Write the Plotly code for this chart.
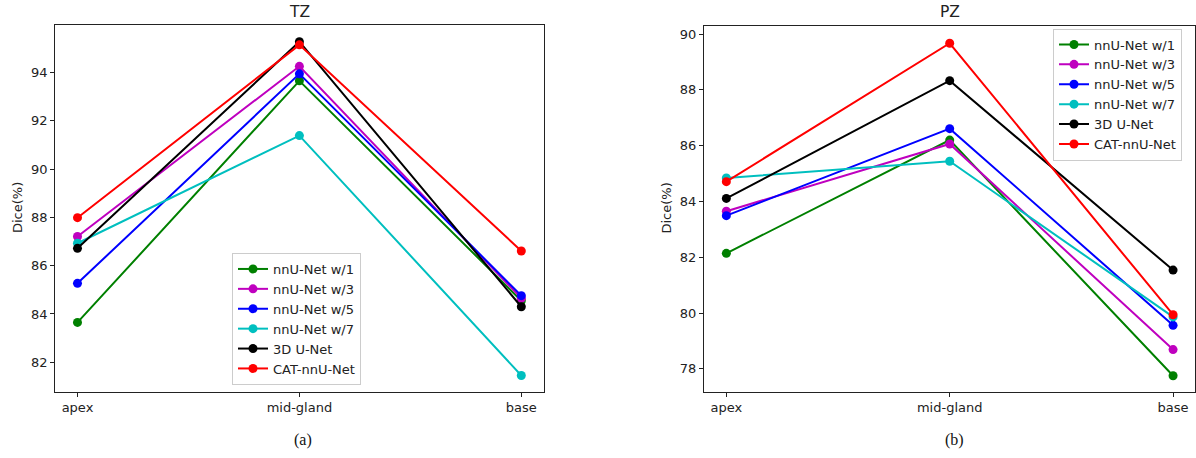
import plotly.graph_objects as go

categories = ["apex", "mid-gland", "base"]
series_names = ["nnU-Net w/1", "nnU-Net w/3", "nnU-Net w/5", "nnU-Net w/7", "3D U-Net", "CAT-nnU-Net"]
colors = ["#008000", "#bf00bf", "#0000ff", "#00bfbf", "#000000", "#ff0000"]

tz_w1 = [83.65, 93.66, 84.55]
tz_w3 = [87.21, 94.26, 84.65]
tz_w5 = [85.27, 93.95, 84.76]
tz_w7 = [86.93, 91.39, 81.45]
tz_3d = [86.72, 95.28, 84.30]
tz_cat = [87.99, 95.15, 86.61]

pz_w1 = [82.14, 86.20, 77.75]
pz_w3 = [83.65, 86.06, 78.69]
pz_w5 = [83.49, 86.61, 79.56]
pz_w7 = [84.84, 85.44, 79.86]
pz_3d = [84.11, 88.33, 81.54]
pz_cat = [84.71, 89.67, 79.94]

tz_values = [tz_w1, tz_w3, tz_w5, tz_w7, tz_3d, tz_cat]
pz_values = [pz_w1, pz_w3, pz_w5, pz_w7, pz_3d, pz_cat]

W, H = 1196, 458
FONT = "DejaVu Sans"
TXT = "#222222"


def px(x):
    return x / W


def py(y):
    return 1 - y / H


fig = go.Figure()

for name, color, vals in zip(series_names, colors, tz_values):
    fig.add_trace(go.Scatter(
        x=categories, y=vals, name=name, mode="lines+markers",
        line=dict(color=color, width=2), marker=dict(color=color, size=9),
        xaxis="x", yaxis="y", legend="legend",
    ))
for name, color, vals in zip(series_names, colors, pz_values):
    fig.add_trace(go.Scatter(
        x=categories, y=vals, name=name, mode="lines+markers",
        line=dict(color=color, width=2), marker=dict(color=color, size=9),
        xaxis="x2", yaxis="y2", legend="legend2",
    ))

axis_common = dict(
    showgrid=False, zeroline=False, showline=True, mirror=True,
    linecolor=TXT, linewidth=1.2, ticks="outside", ticklen=4,
    tickcolor=TXT, tickfont=dict(family=FONT, size=13, color=TXT),
)

legend_common = dict(
    xanchor="left", yanchor="top",
    bgcolor="rgba(255,255,255,0.8)", bordercolor="#cccccc", borderwidth=1,
    font=dict(family=FONT, size=13, color=TXT), tracegroupgap=0,
)

fig.update_layout(
    width=W, height=H,
    margin=dict(l=0, r=0, t=0, b=0),
    paper_bgcolor="white", plot_bgcolor="white",
    font=dict(family=FONT, color=TXT),
    xaxis=dict(domain=[px(55.3), px(543.5)], type="category",
               categoryorder="array", categoryarray=categories,
               range=[-0.1, 2.1], anchor="y", **axis_common),
    yaxis=dict(domain=[py(391.7), py(25.3)], range=[80.78, 95.96],
               dtick=2, tick0=0, anchor="x", **axis_common),
    xaxis2=dict(domain=[px(704), 0.9995], type="category",
                categoryorder="array", categoryarray=categories,
                range=[-0.1, 2.1], anchor="y2", **axis_common),
    yaxis2=dict(domain=[py(391.7), py(25.7)], range=[77.18, 90.30],
                dtick=2, tick0=0, anchor="x2", **axis_common),
    legend=dict(x=px(232), y=py(253), **legend_common),
    legend2=dict(x=px(1053), y=py(28.5), **legend_common),
    annotations=[
        dict(text="TZ", x=px((55.3 + 543.5) / 2), y=py(12),
             font=dict(family=FONT, size=15.5, color=TXT)),
        dict(text="PZ", x=px((704 + 1196) / 2), y=py(12),
             font=dict(family=FONT, size=15.5, color=TXT)),
        dict(text="Dice(%)", x=px(18), y=py(208), textangle=-90,
             font=dict(family=FONT, size=13, color=TXT)),
        dict(text="Dice(%)", x=px(666.5), y=py(208), textangle=-90,
             font=dict(family=FONT, size=13, color=TXT)),
        dict(text="(a)", x=px(303), y=py(440),
             font=dict(family="Liberation Serif", size=16, color="#111111")),
        dict(text="(b)", x=px(954), y=py(440),
             font=dict(family="Liberation Serif", size=16, color="#111111")),
    ],
)
fig.update_annotations(xref="paper", yref="paper", showarrow=False,
                       xanchor="center", yanchor="middle")

# remove the default 8px page margin so the figure fills the window exactly
fig.write_html("out.html", config={"displayModeBar": False},
               post_script="document.body.style.margin='0';")
